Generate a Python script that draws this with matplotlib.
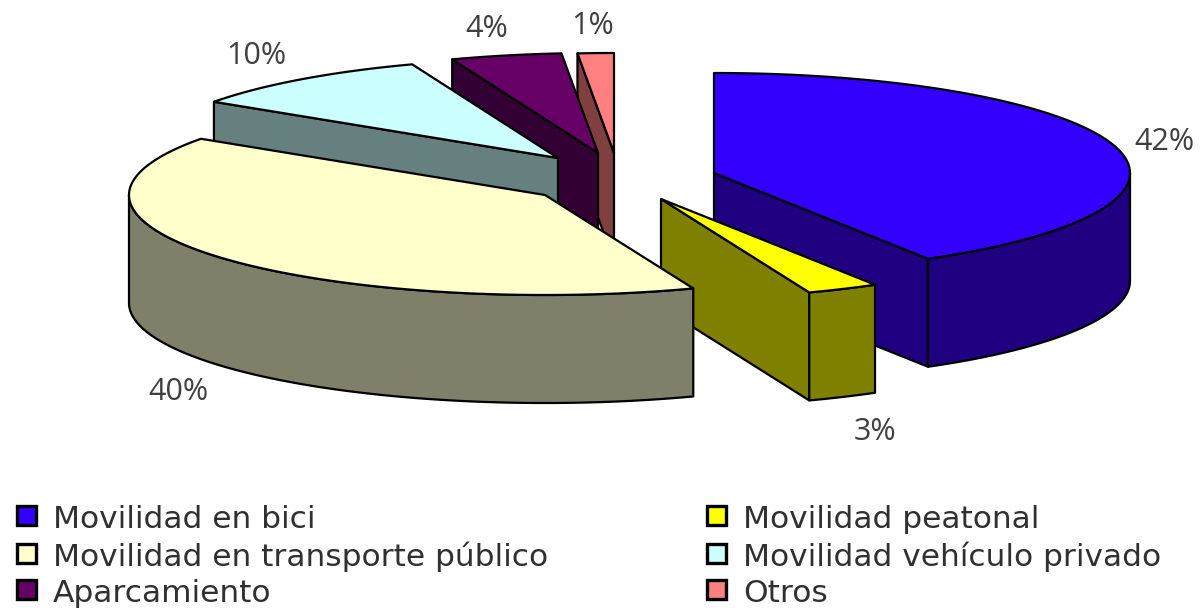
from matplotlib import pyplot as plt
from matplotlib.patches import Polygon, Rectangle
import numpy as np

categories = ["Movilidad en bici", "Movilidad peatonal", "Movilidad en transporte público",
              "Movilidad vehículo privado", "Aparcamiento", "Otros"]
values = [41.4, 2.8, 40.3, 9.8, 4.3, 1.4]
value_labels = ["42%", "3%", "40%", "10%", "4%", "1%"]

top_colors = ["#3300FF", "#FFFF00", "#FFFFCC", "#CCFFFF", "#660066", "#FF8080"]
side_colors = ["#1F0080", "#808000", "#80806A", "#667F7F", "#330033", "#804040"]

# layout in pixels of the 1201x608 picture
RX, RY, DEPTH = 416, 100, 108
apex = [(714, 173), (661, 199), (545, 195), (558, 158), (598, 153), (614, 153)]
label_pos = [(1164, 142), (875, 432), (178, 392), (256, 56), (487, 29), (593, 26)]
legend_pos = [(17, 506), (707, 506), (17, 544), (707, 544), (17, 580), (707, 580)]
draw_order = [5, 4, 3, 0, 1, 2]


def rim(center, t1, t2):
    """points of the outer arc, angles in degrees clockwise from the top"""
    n = max(2, int(abs(t2 - t1)) + 2)
    t = np.radians(np.linspace(t1, t2, n))
    return np.column_stack((center[0] + RX * np.sin(t), center[1] - RY * np.cos(t)))


def draw_slice(ax, center, t1, t2, top, side):
    # radial faces that look towards the viewer
    for t, visible in ((t1, np.sin(np.radians(t1)) < -1e-6), (t2, np.sin(np.radians(t2)) > 1e-6)):
        if visible:
            p = rim(center, t, t)[0]
            face = [center, p, (p[0], p[1] + DEPTH), (center[0], center[1] + DEPTH)]
            ax.add_patch(Polygon(face, closed=True, fc=side, ec="black", lw=1.6, joinstyle="round"))
    # outer wall, only the front half of the ellipse shows
    a, b = max(t1, 90), min(t2, 270)
    if a < b:
        arc = rim(center, a, b)
        wall = np.vstack((arc, arc[::-1] + [0, DEPTH]))
        ax.add_patch(Polygon(wall, closed=True, fc=side, ec="black", lw=1.6, joinstyle="round"))
    outline = np.vstack(([center], rim(center, t1, t2)))
    ax.add_patch(Polygon(outline, closed=True, fc=top, ec="black", lw=1.6, joinstyle="round"))


fig = plt.figure(figsize=(12.01, 6.08), dpi=100)
ax = fig.add_axes([0, 0, 1, 1])
ax.set_xlim(0, 1201)
ax.set_ylim(608, 0)
ax.axis("off")

edges = np.concatenate(([0], np.cumsum(values))) * 3.6
for i in draw_order:
    draw_slice(ax, apex[i], edges[i], edges[i + 1], top_colors[i], side_colors[i])

for text, pos in zip(value_labels, label_pos):
    ax.text(pos[0], pos[1], text, family="Open Sans", fontsize=22, color="#404040", ha="center", va="center")

for name, color, pos in zip(categories, top_colors, legend_pos):
    ax.add_patch(Rectangle(pos, 19, 19, fc=color, ec="black", lw=2.4))
    ax.text(pos[0] + 36, pos[1] + 13, name, family="DejaVu Sans", fontsize=22.5, color="#303030",
            ha="left", va="center")

plt.savefig("out.png", dpi=100)
